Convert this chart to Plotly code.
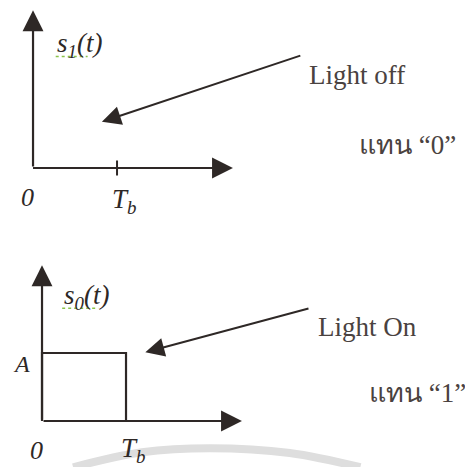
import plotly.graph_objects as go
from plotly.subplots import make_subplots

# time in units of Tb, amplitude in units of A
Tb = 1.0
A = 1.0
t_end = 2.38          # end of the time axis arrow
v_top = [2.32, 2.29]  # top of the amplitude axis arrow (upper, lower panel)

# s1(t): light off -> zero signal
s1_t = [0, Tb]
s1_v = [0, 0]
# s0(t): light on -> rectangular pulse of height A
s0_t = [0, 0, Tb, Tb]
s0_v = [0, A, A, 0]

labels_sig = ["<i>s<sub>1</sub>(t)</i>", "<i>s<sub>0</sub>(t)</i>"]
labels_light = ["Light off", "Light On"]
labels_thai = ["แทน \u201c0\u201d", "แทน \u201c1\u201d"]

# pointer arrows (tail, head) in panel coordinates
ptr_tail = [(3.20, 1.66), (3.19, 1.66)]
ptr_head = [(0.82, 0.68), (1.23, 1.01)]

# label positions per panel
sig_pos = [(0.26, 1.81), (0.24, 1.82)]
light_pos = [(3.26, 1.37), (3.26, 1.38)]
thai_pos = [(3.86, 0.34), (3.87, 0.41)]
tb_pos = [(1.08, -0.48), (1.08, -0.42)]
squiggle_t = [(0.27, 0.65), (0.24, 0.67)]
squiggle_v = [1.64, 1.66]

# faint scan arc at the bottom of the page
arc_t = [0.37, 1.19, 2.0, 2.95, 3.79]
arc_v = [-0.68, -0.46, -0.40, -0.47, -0.68]

ink = "#2e2826"
grey_ink = "#4a4240"
serif = "Liberation Serif, Times New Roman, serif"

fig = make_subplots(rows=2, cols=1, vertical_spacing=0)

fig.add_trace(go.Scatter(x=arc_t, y=arc_v, mode="lines",
                         line=dict(color="#dedede", width=8, shape="spline"),
                         hoverinfo="skip"), row=2, col=1)

fig.add_trace(go.Scatter(x=s1_t, y=s1_v, mode="lines",
                         line=dict(color=ink, width=2.2)), row=1, col=1)
fig.add_trace(go.Scatter(x=s0_t, y=s0_v, mode="lines",
                         line=dict(color=ink, width=2.2)), row=2, col=1)
# tick mark at Tb on the upper axis
fig.add_trace(go.Scatter(x=[Tb, Tb], y=[-0.11, 0.11], mode="lines",
                         line=dict(color=ink, width=2)), row=1, col=1)

# green spell-check squiggle under the signal names
for i, r in enumerate([1, 2]):
    fig.add_trace(go.Scatter(x=list(squiggle_t[i]), y=[squiggle_v[i]] * 2,
                             mode="lines",
                             line=dict(color="#8bc34a", width=1.5, dash="dot")),
                  row=r, col=1)

annotations = []
for i in range(2):
    xr = "x" if i == 0 else "x2"
    yr = "y" if i == 0 else "y2"
    # axes with arrowheads
    annotations.append(dict(x=t_end, y=0, ax=0, ay=0, xref=xr, yref=yr,
                            axref=xr, ayref=yr, showarrow=True, arrowhead=2,
                            arrowsize=1.9, arrowwidth=2.2, arrowcolor=ink, text=""))
    annotations.append(dict(x=0, y=v_top[i], ax=0, ay=0, xref=xr, yref=yr,
                            axref=xr, ayref=yr, showarrow=True, arrowhead=2,
                            arrowsize=1.9, arrowwidth=2.2, arrowcolor=ink, text=""))
    # pointer arrow
    annotations.append(dict(x=ptr_head[i][0], y=ptr_head[i][1],
                            ax=ptr_tail[i][0], ay=ptr_tail[i][1],
                            xref=xr, yref=yr, axref=xr, ayref=yr,
                            showarrow=True, arrowhead=2, arrowsize=1.9,
                            arrowwidth=2, arrowcolor=ink, text=""))
    # texts
    annotations.append(dict(x=sig_pos[i][0], y=sig_pos[i][1], xref=xr, yref=yr,
                            xanchor="left", text=labels_sig[i], showarrow=False,
                            font=dict(family=serif, size=27, color=ink)))
    annotations.append(dict(x=light_pos[i][0], y=light_pos[i][1], xref=xr,
                            yref=yr, xanchor="left", text=labels_light[i],
                            showarrow=False,
                            font=dict(family=serif, size=27, color=grey_ink)))
    annotations.append(dict(x=thai_pos[i][0], y=thai_pos[i][1], xref=xr,
                            yref=yr, xanchor="left", text=labels_thai[i],
                            showarrow=False,
                            font=dict(family=serif, size=27, color=grey_ink)))
    annotations.append(dict(x=-0.07, y=-0.43, xref=xr, yref=yr,
                            text="<i>0</i>", showarrow=False,
                            font=dict(family=serif, size=26, color=ink)))
    annotations.append(dict(x=tb_pos[i][0], y=tb_pos[i][1], xref=xr, yref=yr,
                            text="<i>T<sub>b</sub></i>", showarrow=False,
                            font=dict(family=serif, size=27, color=ink)))

annotations.append(dict(x=-0.25, y=0.84, xref="x2", yref="y2",
                        text="<i>A</i>", showarrow=False,
                        font=dict(family=serif, size=24, color=ink)))

fig.update_layout(width=473, height=467, margin=dict(l=0, r=0, t=0, b=0),
                  paper_bgcolor="white", plot_bgcolor="white",
                  showlegend=False, annotations=annotations)
fig.update_xaxes(visible=False)
fig.update_yaxes(visible=False)
# ranges account for the 8 px page margin around the figure
fig.update_xaxes(range=[-0.298, 5.333], row=1, col=1)
fig.update_xaxes(range=[-0.405, 5.226], row=2, col=1)
fig.update_yaxes(range=[-1.081, 2.353], row=1, col=1)
fig.update_yaxes(range=[-0.794, 2.640], row=2, col=1)

fig.write_html("out.html")
